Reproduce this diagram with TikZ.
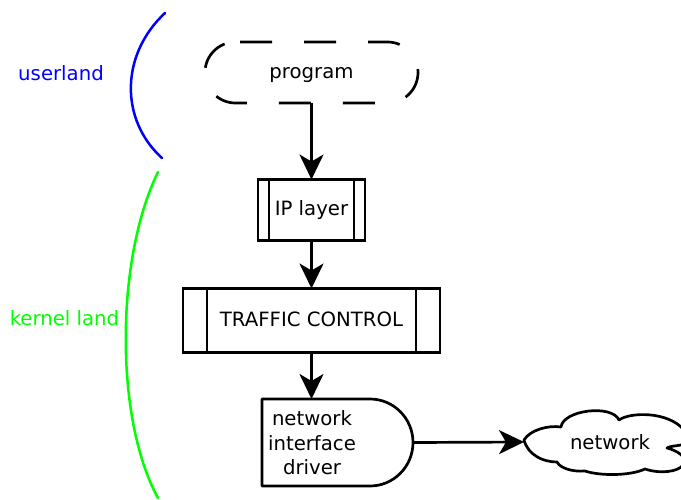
\documentclass[tikz,border=0pt]{standalone}
\usepackage{fontspec}
\setmainfont{DejaVu Sans}
\usetikzlibrary{arrows.meta,calc}
\definecolor{ublue}{RGB}{0,0,255}
\definecolor{kgreen}{RGB}{0,255,0}
\definecolor{ink}{RGB}{0,0,0}
\begin{document}
\begin{tikzpicture}[x=1pt,y=-1pt,line width=2.7pt,
  font=\fontsize{19.7}{24.5}\selectfont,
  box/.style={draw=ink, rectangle, inner sep=0pt, outer sep=0pt, text height=14pt, text depth=3pt},
  arr/.style={draw=ink, line width=2.7pt, -{Stealth[length=25pt,width=24pt,inset=7pt]}},
  plain/.style={inner sep=0pt, outer sep=0pt},
  brace/.style={line width=2.5pt, line cap=round}]
\useasboundingbox (0,0) rectangle (681,499);

% userland / kernel land
\draw[brace, ublue] (165,13) .. controls (120,55) and (120,120) .. (162,158);
\draw[brace, kgreen] (158,172) .. controls (115,260) and (115,420) .. (158,498);
\node[plain, text=ublue] (user) at (61,73) {userland};
\node[plain, text=kgreen] (kern) at (64.5,318) {kernel land};

% program
\node[plain, minimum width=213pt, minimum height=61pt, text height=14pt, text depth=3pt] (prog) at (311.5,72.5) {program};
\draw[ink, dash pattern=on 32pt off 32pt] (240,42) -- (387.5,42)
  .. controls (404.35,42) and (418,55.65) .. (418,72.5)
  .. controls (418,89.35) and (404.35,103) .. (387.5,103)
  -- (235.5,103)
  .. controls (218.65,103) and (205,89.35) .. (205,72.5)
  .. controls (205,55.65) and (218.65,42) .. (235.5,42) -- cycle;

% IP layer
\node[box, minimum width=107pt, minimum height=61pt] (ip) at (311.5,210) {IP layer};
\draw[ink] ($(ip.north west)+(11,0)$) -- ($(ip.south west)+(11,0)$);
\draw[ink] ($(ip.north east)+(-11,0)$) -- ($(ip.south east)+(-11,0)$);

% traffic control
\node[box, minimum width=257pt, minimum height=64pt] (tc) at (311.5,320.5) {TRAFFIC CONTROL};
\draw[ink] ($(tc.north west)+(24,0)$) -- ($(tc.south west)+(24,0)$);
\draw[ink] ($(tc.north east)+(-24,0)$) -- ($(tc.south east)+(-24,0)$);

% network interface driver
\node[plain, minimum width=151pt, minimum height=87pt] (drv) at (337.5,442.5) {};
\draw[ink, line join=round] (262,399) -- (370,399)
  .. controls (393.7,399) and (413,418.5) .. (413,442.5)
  .. controls (413,466.5) and (393.7,486) .. (370,486)
  -- (262,486) -- cycle;
\node[plain, align=center] (drvtext) at (312,443) {network\\interface\\driver};

% network cloud
\node[plain, minimum width=172pt, minimum height=50pt] (cloud) at (610,442) {network};
\draw[ink, line join=round] (524,440)
  .. controls (530,430) and (548,425) .. (561,427)
  .. controls (563,410) and (612,404) .. (619,420)
  .. controls (630,412) and (668,411) .. (684,430)
  .. controls (688,440) and (685,444) .. (681,445)
  .. controls (676,446) and (670,446) .. (667,448)
  .. controls (676,450) and (690,458) .. (683,465)
  .. controls (678,472) and (660,474) .. (645,469)
  .. controls (630,476) and (600,476) .. (585,471)
  .. controls (572,472) and (560,468) .. (557,462)
  .. controls (543,462) and (528,455) .. (524,440) -- cycle;

% connectors
\draw[arr] (prog) -- (ip);
\draw[arr] (ip) -- (tc);
\draw[arr] (tc.south) -- (tc.south |- drv.north);
\draw[arr] (drv.east) -- (cloud.west);
\end{tikzpicture}
\end{document}
